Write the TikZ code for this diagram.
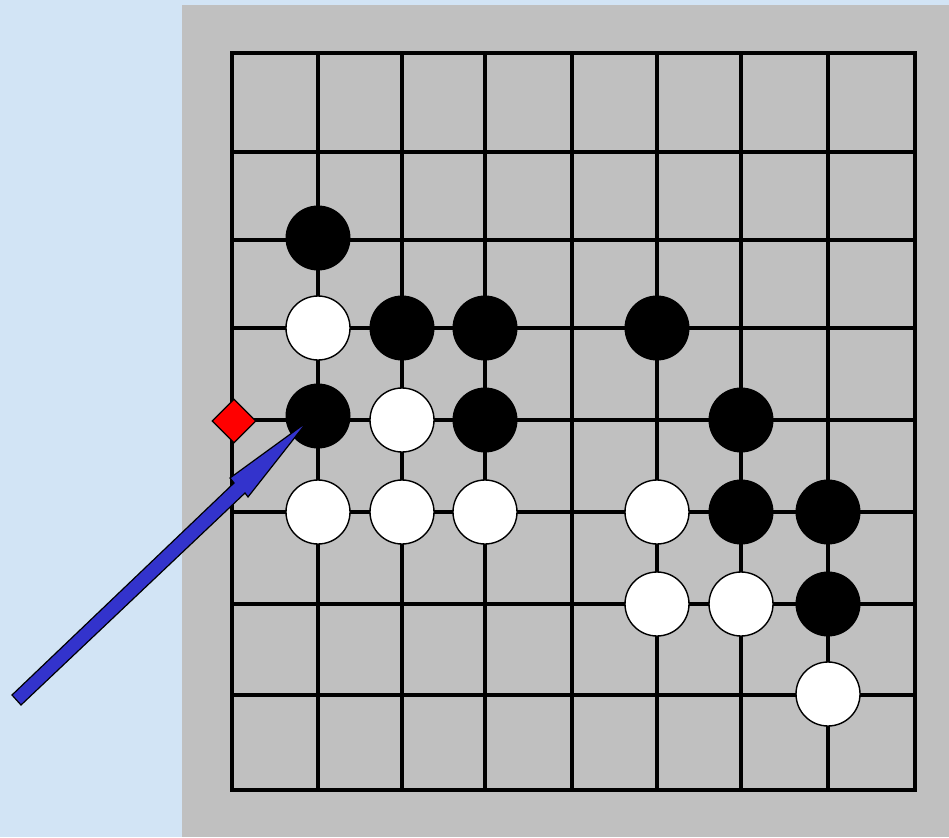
\documentclass[tikz,border=0pt]{standalone}
\usetikzlibrary{shapes.geometric}
\begin{document}
\begin{tikzpicture}[x=1pt,y=-1pt,
  gridline/.style={line width=3.6pt,black,line cap=rect},
  blackstone/.style={circle,fill=black,draw=black,line width=1pt,minimum size=64pt,inner sep=0pt},
  whitestone/.style={circle,fill=white,draw=black,line width=1.4pt,minimum size=64pt,inner sep=0pt},
  redmarker/.style={diamond,fill=red,draw=black,line width=1.2pt,minimum size=44pt,inner sep=0pt},
  pointer/.style={fill={rgb,255:red,51;green,51;blue,204},draw=black,line width=1.2pt,line join=miter}]
\definecolor{bgblue}{RGB}{210,228,245}
\definecolor{board}{RGB}{192,192,192}
\useasboundingbox (0,0) rectangle (949,837);
\fill[bgblue] (0,0) rectangle (949,837);
\fill[board] (182,5) rectangle (949,837);
% grid
\foreach \x in {232,318,402,485,572,657,741,828,915}
  \draw[gridline] (\x,53) -- (\x,790);
\foreach \y in {53,152,240,328,420,512,604,695,790}
  \draw[gridline] (232,\y) -- (915,\y);
% black stones
\foreach \x/\y/\n in {318/238/b1,402/328/b2,485/328/b3,657/328/b4,318/416/b5,485/420/b6,741/420/b7,741/512/b8,828/512/b9,828/604/b10}
  \node[blackstone] (\n) at (\x,\y) {};
% white stones
\foreach \x/\y/\n in {318/328/w1,402/420/w2,318/512/w3,402/512/w4,485/512/w5,657/512/w6,657/604/w7,741/604/w8,828/694/w9}
  \node[whitestone] (\n) at (\x,\y) {};
% red marker
\node[redmarker] (rm) at (234,421) {};
% arrow
\coordinate (tl) at (12,695);
\coordinate (tr) at (21,705);
\coordinate (jl) at (234,483);
\coordinate (bl) at (230,478);
\coordinate (tip) at (307,422);
\coordinate (br) at (248,497);
\coordinate (jr) at (245,493);
\draw[pointer] (tl) -- (jl) -- (bl) -- (tip) -- (br) -- (jr) -- (tr) -- cycle;
\end{tikzpicture}
\end{document}
